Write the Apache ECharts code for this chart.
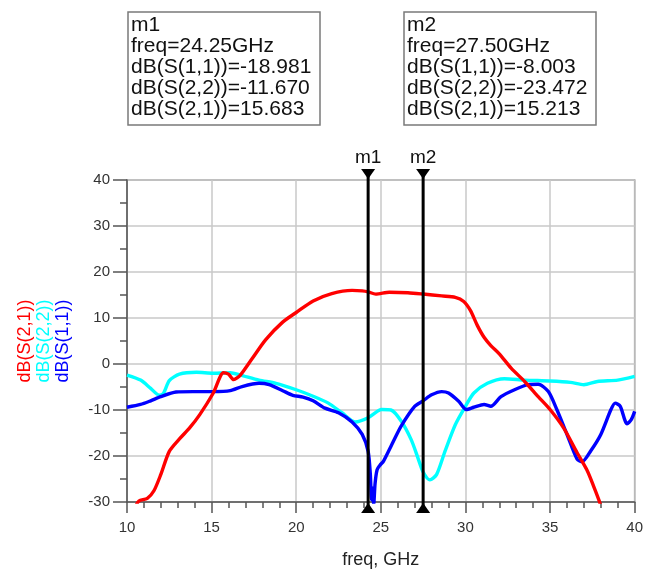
<!DOCTYPE html>
<html>
<head>
<meta charset="utf-8">
<script src="https://cdn.jsdelivr.net/npm/echarts@6/dist/echarts.min.js"></script>
<style>
  html, body { margin: 0; padding: 0; background: #fff; }
  #container { width: 646px; height: 574px; }
</style>
</head>
<body>
<div id="container"></div>
<script>
// S-parameters, [freq GHz, dB]
var s21 = [[10.5,-31],[10.7,-29.8],[11.2,-29.2],[11.6,-27.5],[12.0,-24],[12.5,-19],[13.1,-16.3],[13.7,-13.9],
  [14.3,-11],[15.1,-6.3],[15.7,-1.9],[16.0,-2.2],[16.3,-3.4],[16.7,-2.4],[17.4,1.2],[18.2,5.3],[19.2,9.1],
  [20,11.2],[21,13.7],[22.1,15.3],[23.3,16],[23.9,15.9],[24.25,15.68],[24.7,15.2],[25.5,15.6],[26.6,15.5],
  [27.5,15.21],[28.6,14.8],[29.4,14.5],[29.9,13.6],[30.3,11.6],[30.7,8.4],[31.1,5.8],[31.5,4.0],[32.0,2.2],
  [32.7,-0.9],[33.5,-3.8],[34.3,-7.1],[35,-9.9],[35.8,-13.9],[36.6,-19.3],[37.2,-23.2],[37.6,-26.8],
  [37.9,-29.7],[38.1,-32]]
var s22 = [[10,-2.4],[10.8,-3.5],[11.4,-5.3],[11.9,-6.8],[12.15,-6.4],[12.5,-3.6],[13.1,-2.2],[14.1,-1.8],
  [15.1,-2.0],[16.1,-1.9],[16.7,-2.4],[17.8,-3.5],[18.8,-4.2],[20,-5.6],[21,-7.0],[21.9,-8.5],[22.7,-10.6],
  [23.5,-12.6],[24.25,-11.67],[25.05,-9.9],[25.6,-10.0],[26.2,-12.4],[26.8,-16.5],[27.2,-20.5],[27.5,-23.47],
  [27.9,-25.2],[28.3,-24],[28.8,-18.9],[29.4,-13.2],[30,-9.2],[30.5,-6.3],[31.3,-4.2],[32.3,-3.2],[33.5,-3.5],
  [35,-3.7],[36.2,-4.0],[37,-4.5],[37.8,-3.8],[39,-3.5],[40,-2.7]]
var s11 = [[10,-9.4],[10.8,-8.8],[11.4,-8.0],[12,-7.1],[12.9,-6.1],[13.9,-6.0],[15.1,-6.0],[16.1,-5.8],
  [16.8,-4.9],[17.8,-4.2],[18.4,-4.5],[19.2,-5.8],[19.8,-6.8],[20.4,-7.2],[21,-8.0],[21.7,-9.6],[22.5,-10.6],
  [23.3,-12.6],[23.9,-15.3],[24.25,-18.98],[24.38,-24],[24.45,-29.5],[24.52,-27],[24.58,-30.5],[24.66,-26],
  [24.78,-23],[24.95,-22],[25.16,-21.1],[25.65,-17.5],[26.2,-13.5],[27.0,-9.2],[27.5,-8.0],[28,-6.7],
  [28.6,-6.0],[29,-6.3],[29.6,-8.1],[30.05,-9.9],[30.5,-9.4],[31.1,-8.8],[31.5,-9.2],[32.1,-7.1],[32.9,-5.6],
  [33.7,-4.5],[34.3,-4.4],[34.9,-6.0],[35.4,-9.9],[36.0,-15.3],[36.6,-20.7],[36.9,-21.2],[37.4,-18.9],
  [38,-15.3],[38.6,-9.9],[38.85,-8.5],[39.15,-9.2],[39.55,-13],[39.8,-12.1],[40,-10.3]]

var markerNames = ['m1', 'm2']
var markerFreq = [24.25, 27.50]
var markerS11 = ['-18.981', '-8.003']
var markerS22 = ['-11.670', '-23.472']
var markerS21 = ['15.683', '15.213']

var seriesNames = ['dB(S(2,1))', 'dB(S(2,2))', 'dB(S(1,1))']
var seriesColors = ['#ff0000', '#00ffff', '#0000ff']

var font = 'Arial, "Liberation Sans", sans-serif'

var dom = document.getElementById('container')
var myChart = echarts.init(dom)

function markerBox(i, left){
    var lines = [
        markerNames[i],
        'freq=' + markerFreq[i].toFixed(2) + 'GHz',
        'dB(S(1,1))=' + markerS11[i],
        'dB(S(2,2))=' + markerS22[i],
        'dB(S(2,1))=' + markerS21[i]
    ]
    var children = [{
        type: 'rect',
        shape: { x: left, y: 12, width: 192, height: 113 },
        style: { fill: '#fff', stroke: '#7a7a7a', lineWidth: 1.5 }
    }]
    lines.forEach(function(t, j){
        children.push({
            type: 'text',
            x: left + 3, y: 25 + j * 21,
            style: { text: t, fill: '#111', font: '21px ' + font, textVerticalAlign: 'middle' }
        })
    })
    return { type: 'group', children: children }
}

var graphics = [markerBox(0, 128), markerBox(1, 404)]
var legendX = [25, 44, 63]
seriesNames.forEach(function(n, i){
    graphics.push({
        type: 'text', x: legendX[i], y: 341, rotation: Math.PI / 2,
        style: { text: n, fill: seriesColors[i], font: '18px ' + font,
            textAlign: 'center', textVerticalAlign: 'middle' }
    })
})

function lineSeries(name, data, color, z){
    return {
        name: name, type: 'line', data: data, showSymbol: false, smooth: 0.25,
        clip: true, z: z,
        lineStyle: { color: color, width: 3.4 }
    }
}

var option = {
    animation: false,
    backgroundColor: '#fff',
    grid: { left: 127, right: 9, top: 180, bottom: 70, show: true, borderColor: '#8a8a8a', borderWidth: 1.5 },
    xAxis: {
        type: 'value', min: 10, max: 40, interval: 5,
        name: 'freq, GHz', nameLocation: 'middle', nameGap: 49,
        nameTextStyle: { fontSize: 18, color: '#222', fontFamily: font },
        axisLine: { onZero: false, lineStyle: { color: '#555', width: 1.5 } },
        axisTick: { length: 11, lineStyle: { color: '#555', width: 1.5 } },
        minorTick: { show: true, splitNumber: 5, length: 6, lineStyle: { color: '#555', width: 1.5 } },
        axisLabel: { fontSize: 15, color: '#333', fontFamily: font, margin: 18 },
        splitLine: { lineStyle: { color: '#c8c8c8', width: 1.5 } }
    },
    yAxis: {
        type: 'value', min: -30, max: 40, interval: 10,
        axisLine: { show: true, onZero: false, lineStyle: { color: '#555', width: 1.5 } },
        axisTick: { show: true, length: 14, lineStyle: { color: '#555', width: 1.5 } },
        minorTick: { show: true, splitNumber: 2, length: 7, lineStyle: { color: '#555', width: 1.5 } },
        axisLabel: { fontSize: 15, color: '#333', fontFamily: font, margin: 17 },
        splitLine: { lineStyle: { color: '#c8c8c8', width: 1.5 } }
    },
    graphic: graphics,
    series: [
        lineSeries(seriesNames[1], s22, seriesColors[1], 2),
        lineSeries(seriesNames[2], s11, seriesColors[2], 3),
        lineSeries(seriesNames[0], s21, seriesColors[0], 4),
        {
            type: 'custom', z: 10,
            data: markerFreq.map(function(f, i){ return [f, i] }),
            renderItem: function(params, api){
                var f = api.value(0)
                var top = api.coord([f, 40])
                var bot = api.coord([f, -30])
                var x = top[0], y0 = top[1] - 11, y1 = bot[1] + 11
                return {
                    type: 'group',
                    children: [
                        { type: 'line', shape: { x1: x, y1: y0, x2: x, y2: y1 },
                          style: { stroke: '#000', lineWidth: 3 } },
                        { type: 'polygon', shape: { points: [[x - 7, y0], [x + 7, y0], [x, y0 + 10]] },
                          style: { fill: '#000' } },
                        { type: 'polygon', shape: { points: [[x - 7, y1], [x + 7, y1], [x, y1 - 10]] },
                          style: { fill: '#000' } },
                        { type: 'text', x: x, y: y0 - 11,
                          style: { text: markerNames[api.value(1)], fill: '#111', font: '19px ' + font,
                              textAlign: 'center', textVerticalAlign: 'middle' } }
                    ]
                }
            }
        }
    ]
}

if (option && typeof option === "object") {
    myChart.setOption(option, true)
}
</script>
</body>
</html>
